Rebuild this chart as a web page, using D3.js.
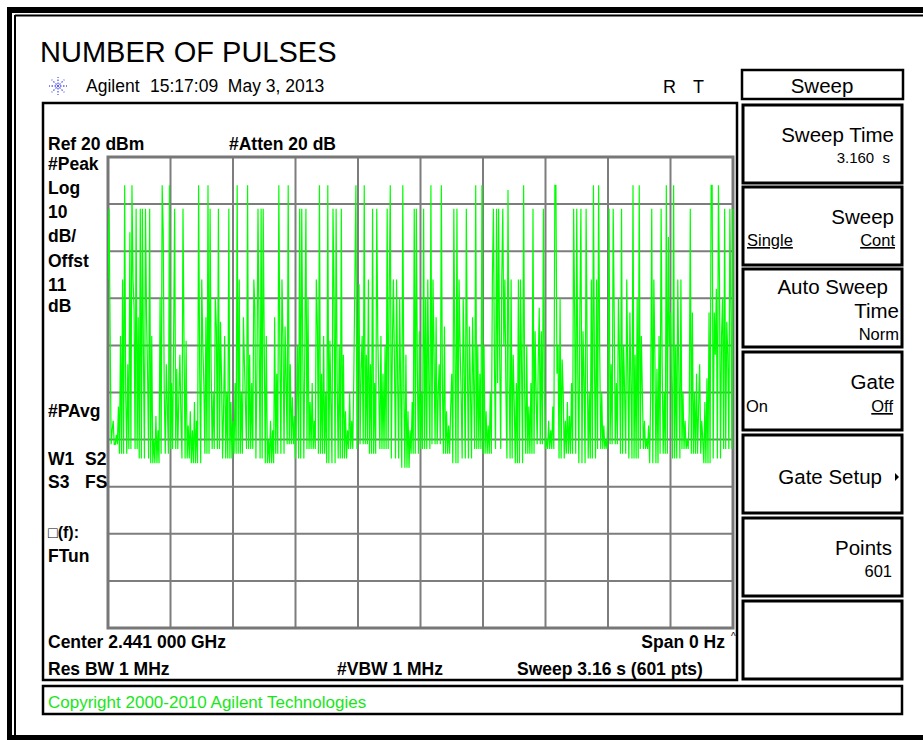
<!DOCTYPE html>
<html>
<head>
<meta charset="utf-8">
<script src="https://cdn.jsdelivr.net/npm/d3@7"></script>
<style>
  body { margin: 0; background: #fff; }
  svg text { font-family: "Liberation Sans", Arial, sans-serif; white-space: pre; }
</style>
</head>
<body>
<div id="drawing"></div>
<script>
const width = 923;
const height = 740;

// analyzer settings
const refLevel = 20;      // dBm at top of graticule
const dbPerDiv = 10;
const divisions = 10;
const sweepPoints = 601;

// pulses: [sample index, dBm]
const pulsesA = [
  [0,-6],[1,9],[2,-16],[4,-38],[5,-36],[7,-41],[8,-39],[10,-33],[12,-18],[14,-6],[16,14],[17,-30],[19,-24],[21,4],[23,14],[24,-6],[25,-12],[27,9],[29,-14],[31,9],[33,9],[34,-22],[36,9],[37,-14],[38,-26],[40,9],[42,-18],[44,-40],[46,-35],[48,-38],[50,-10],[52,14],[53,4],[54,-30],[56,-24],[57,-33],[59,14],
  [61,-28],[63,-18],[64,9],[66,-25],[68,-31],[69,-22],[70,-35],[72,9],[73,-20],[75,-19],[77,-37],[79,-34],[81,-38],[83,-32],[85,-36],[87,14],[88,-25],[90,-6],[91,-20],[92,-28],[94,-14],[96,14],[98,9],[99,-25],[101,-30],[103,-10],[104,-16],[106,9],[108,-15],[109,-27],[111,-33],[112,-18],[114,-30],[116,9],[118,-32],
  [120,-36],[122,-28],[124,14],[126,-6],[128,-30],[130,-14],[131,-24],[132,-33],[134,14],[136,-22],[138,-28],[140,-6],[141,-12],[143,-25],[144,9],[145,-18],[147,9],[149,9],[150,-20],[152,-18],[154,-40],[156,-36],[158,-38],[160,-14],[162,-26],[164,14],[165,-22],[167,-6],[168,-18],[170,-16],[171,-28],[173,14],[175,-24],[177,-31],[179,-35]
];
const pulsesB = [
  [181,-33],[182,-20],[184,9],[186,9],[187,-22],[189,-20],[190,9],[192,-10],[194,-32],[196,-28],[198,-36],[200,-6],[201,-16],[203,14],[205,-26],[207,-18],[209,-30],[211,14],[213,-19],[214,-32],[216,9],[217,-10],[219,9],[220,-28],[222,-20],[224,9],[226,-22],[228,-34],[230,-38],[232,-30],[234,-36],[236,-26],[237,-6],[238,14],
  [240,-20],[241,-7],[243,-25],[244,-18],[246,14],[248,-22],[250,-6],[252,-24],[254,9],[256,-28],[258,9],[259,-18],[260,-30],[262,-18],[264,-26],[266,-20],[268,9],[270,-8],[271,14],[273,-20],[274,-6],[275,-24],[277,-6],[278,-26],[280,-10],[281,-30],[283,14],[284,-30],[286,-22],[288,-34],[290,-38],[292,-32],[294,9],[296,9],[297,-26],[299,-17],
  [301,-30],[303,9],[305,-10],[307,-6],[308,-28],[310,14],[312,-6],[313,-22],[315,-14],[317,-30],[318,-24],[320,14],[321,-28],[323,-16],[325,-34],[327,-37],[329,-33],[330,-26],[332,9],[333,-22],[335,9],[337,-6],[338,-20],[339,-30],[341,-10],[342,-26],[344,9],[345,-24],[347,-16],[348,-30],[350,-14],[351,-28],[353,14],[355,-20],[357,-26],[359,14]
];
const pulsesC = [
  [361,-20],[363,-34],[365,-37],[367,-30],[369,-6],[370,9],[371,-24],[373,9],[374,-28],[375,9],[376,-22],[378,-6],[379,9],[380,-20],[381,-6],[382,-30],[384,13],[385,-26],[387,-6],[389,-22],[390,-32],[392,-28],[394,-6],[396,-6],[397,-24],[399,14],[400,-30],[402,-20],[404,-33],[406,-28],[408,9],[410,-17],[411,-30],[413,-24],[414,-12],[416,-17],[418,9],[419,-30],
  [421,-40],[423,-36],[425,-38],[427,-33],[429,14],[430,14],[431,-26],[432,-20],[434,-10],[436,-23],[437,-30],[439,-36],[441,-32],[443,-35],[445,-28],[447,9],[448,-13],[450,9],[451,-26],[453,-13],[454,9],[456,-17],[457,-28],[459,9],[460,-22],[462,-30],[464,-6],[466,14],[467,-24],[469,-6],[471,14],[472,-20],[474,-30],[476,-37],[478,-40],
  [480,-34],[481,9],[483,-24],[485,9],[486,-14],[488,-28],[490,-10],[491,-22],[493,9],[495,-20],[496,-30],[498,-6],[499,-26],[501,-13],[502,-28],[504,14],[506,-22],[508,-10],[510,14],[512,-18],[513,-30],[515,-36],[517,-40],[519,-37],[521,-30],[522,9],[524,-6],[525,-22],[527,-25],[529,-18],[531,9],[532,-24],[534,-30],[536,14],[538,3],[539,-20],
  [540,-13],[541,-28],[543,14],[545,-20],[547,-6],[548,-26],[550,-6],[552,-30],[554,-36],[556,-40],[558,-34],[559,9],[561,-13],[563,-30],[565,-26],[567,-33],[568,-24],[570,-36],[571,-40],[573,-32],[575,-27],[577,-13],[579,14],[580,14],[582,-13],[583,-22],[584,-8],[586,14],[587,-6],[589,-18],[590,-10],[592,9],[594,-15],[595,-22],[597,9],[598,-13],[600,9]
];
// noise floor, one value per 10 samples (dBm)
const floorDbm = [-41,-43,-42,-44,-45,-43,-42,-44,-45,-43,-42,-44,-43,-42,-44,-45,-43,-41,-44,-42,
  -43,-45,-44,-42,-41,-43,-42,-44,-46,-43,-42,-41,-43,-45,-44,-42,-43,-42,-44,-45,
  -43,-41,-42,-44,-43,-45,-44,-42,-41,-43,-44,-42,-45,-43,-44,-42,-43,-45,-44,-42,-41];

// annotation text
const leftLabels = ["#Peak", "Log", "10", "dB/", "Offst", "11", "dB"];
const leftLabelY = [170, 194, 218, 242, 267, 291, 312];
const softkeyTops = [105, 187, 269, 352, 435, 518, 601];

let drawing, area;

function setup(){
  drawing = d3.select("#drawing").append("svg")
    .attr("width", width)
    .attr("height", height)
    .style("background", "#fff");
  area = drawing.append("g");
}

function frame(){
  // outer double border
  area.append("rect").attr("x", 7).attr("y", 7).attr("width", 930).attr("height", 6).attr("fill", "#000");
  area.append("rect").attr("x", 7).attr("y", 7).attr("width", 5).attr("height", 733).attr("fill", "#000");
  area.append("rect").attr("x", 7).attr("y", 735).attr("width", 930).attr("height", 5).attr("fill", "#000");
  area.append("line").attr("x1", 15).attr("x2", 923).attr("y1", 15.5).attr("y2", 15.5).attr("stroke", "#000").attr("stroke-width", 2);
  area.append("line").attr("x1", 15).attr("x2", 15).attr("y1", 15).attr("y2", 735).attr("stroke", "#000").attr("stroke-width", 2);

  // title
  area.append("text").attr("x", 40).attr("y", 62).attr("font-size", 29).text("NUMBER OF PULSES");

  // agilent spark logo
  const logo = area.append("g").attr("transform", "translate(58,86)");
  d3.range(8).forEach(k => {
    const a = k * Math.PI / 4;
    logo.append("line")
      .attr("x1", Math.cos(a) * 2).attr("y1", Math.sin(a) * 2)
      .attr("x2", Math.cos(a) * 9).attr("y2", Math.sin(a) * 9)
      .attr("stroke", "#5a5af0").attr("stroke-width", 1.3)
      .attr("stroke-dasharray", "1.5,1.5");
  });
  logo.append("circle").attr("r", 1.2).attr("fill", "#5a5af0");

  area.append("text").attr("x", 86).attr("y", 92).attr("font-size", 17.5).text("Agilent");
  area.append("text").attr("x", 150).attr("y", 92).attr("font-size", 17.5).text("15:17:09  May 3, 2013");
  area.append("text").attr("x", 663).attr("y", 93).attr("font-size", 18).text("R");
  area.append("text").attr("x", 693).attr("y", 93).attr("font-size", 18).text("T");

  // display box
  area.append("rect").attr("x", 43).attr("y", 103).attr("width", 694).attr("height", 577)
    .attr("fill", "none").attr("stroke", "#000").attr("stroke-width", 2.5);

  // copyright box
  area.append("rect").attr("x", 43).attr("y", 686).attr("width", 859).attr("height", 28)
    .attr("fill", "none").attr("stroke", "#000").attr("stroke-width", 2.5);
  area.append("text").attr("x", 48).attr("y", 708).attr("font-size", 17).attr("fill", "#19e619")
    .text("Copyright 2000-2010 Agilent Technologies");
}

function graticule(){
  const x = d3.scaleLinear().domain([0, sweepPoints - 1]).range([108, 733]);
  const y = d3.scaleLinear().domain([refLevel - dbPerDiv * divisions, refLevel]).range([628, 157]);

  const g = area.append("g");
  g.selectAll(".vgrid")
    .data(d3.range(0, sweepPoints, (sweepPoints - 1) / divisions))
    .enter().append("line")
      .attr("class", "vgrid")
      .attr("x1", d => x(d)).attr("x2", d => x(d))
      .attr("y1", y.range()[1]).attr("y2", y.range()[0])
      .attr("stroke", "#7d7d7d").attr("stroke-width", 2);
  g.selectAll(".hgrid")
    .data(d3.range(refLevel - dbPerDiv * divisions, refLevel + 1, dbPerDiv))
    .enter().append("line")
      .attr("class", "hgrid")
      .attr("x1", x.range()[0]).attr("x2", x.range()[1])
      .attr("y1", d => y(d)).attr("y2", d => y(d))
      .attr("stroke", "#7d7d7d").attr("stroke-width", 2);
  g.append("rect").attr("x", 108).attr("y", 157).attr("width", 625).attr("height", 471)
    .attr("fill", "none").attr("stroke", "#777").attr("stroke-width", 3);

  // trace
  const trace = d3.range(sweepPoints).map(i => floorDbm[Math.floor(i / 10)]);
  pulsesA.concat(pulsesB, pulsesC).forEach(([i, v]) => { trace[i] = v; });

  drawing.append("defs").append("clipPath").attr("id", "clip")
    .append("rect").attr("x", 108).attr("y", 157).attr("width", 626).attr("height", 471);

  const line = d3.line().x((d, i) => x(i)).y(d => y(d));
  area.append("path")
    .datum(trace)
    .attr("clip-path", "url(#clip)")
    .attr("d", line)
    .attr("fill", "none")
    .attr("stroke", "#00ff00")
    .attr("stroke-width", 1.2);

  // status text around graticule
  const bold = (tx, ty, s, anchor) => area.append("text")
    .attr("x", tx).attr("y", ty).attr("font-size", 17.5).attr("font-weight", "bold")
    .attr("text-anchor", anchor || "start").text(s);

  bold(48, 150, "Ref 20 dBm");
  bold(229, 150, "#Atten 20 dB");
  leftLabels.forEach((s, i) => bold(48, leftLabelY[i], s));
  bold(48, 417, "#PAvg");
  bold(48, 465, "W1");
  bold(85, 465, "S2");
  bold(48, 488, "S3");
  bold(85, 488, "FS");
  bold(48, 538, "\u25A1(f):").attr("font-size", 16);
  bold(48, 562, "FTun");
  bold(48, 648, "Center 2.441 000 GHz");
  bold(725, 648, "Span 0 Hz", "end");
  bold(48, 675, "Res BW 1 MHz");
  bold(337, 675, "#VBW 1 MHz");
  bold(517, 675, "Sweep 3.16 s (601 pts)");
  area.append("text").attr("x", 731).attr("y", 640).attr("font-size", 10).text("^");
}

function softkeys(){
  area.append("rect").attr("x", 742).attr("y", 70).attr("width", 161).attr("height", 29)
    .attr("fill", "none").attr("stroke", "#000").attr("stroke-width", 2.5);
  area.append("text").attr("x", 822).attr("y", 93).attr("font-size", 20.5).attr("text-anchor", "middle").text("Sweep");

  area.selectAll(".key")
    .data(softkeyTops)
    .enter().append("rect")
      .attr("class", "key")
      .attr("x", 743).attr("y", d => d)
      .attr("width", 159).attr("height", 78)
      .attr("fill", "none").attr("stroke", "#000").attr("stroke-width", 3);

  const t = (tx, ty, s, size, anchor, under) => area.append("text")
    .attr("x", tx).attr("y", ty).attr("font-size", size)
    .attr("text-anchor", anchor || "end")
    .attr("text-decoration", under ? "underline" : null).text(s);

  t(894, 142, "Sweep Time", 20.5);
  t(890, 163, "3.160  s", 15);
  t(894, 224, "Sweep", 20.5);
  t(747, 246, "Single", 16.5, "start", true);
  t(895, 246, "Cont", 16.5, "end", true);
  t(888, 294, "Auto Sweep", 20.5);
  t(899, 318, "Time", 20.5);
  t(899, 340, "Norm", 16.5);
  t(895, 389, "Gate", 20.5);
  t(746, 412, "On", 16.5, "start");
  t(893, 412, "Off", 16.5, "end", true);
  t(882, 484, "Gate Setup", 20.5);
  t(892, 555, "Points", 20.5);
  t(892, 577, "601", 16.5);
  area.append("path").attr("d", "M895,473 L899,477 L895,481 Z").attr("fill", "#000");
}

setup();
frame();
graticule();
softkeys();
</script>
</body>
</html>
